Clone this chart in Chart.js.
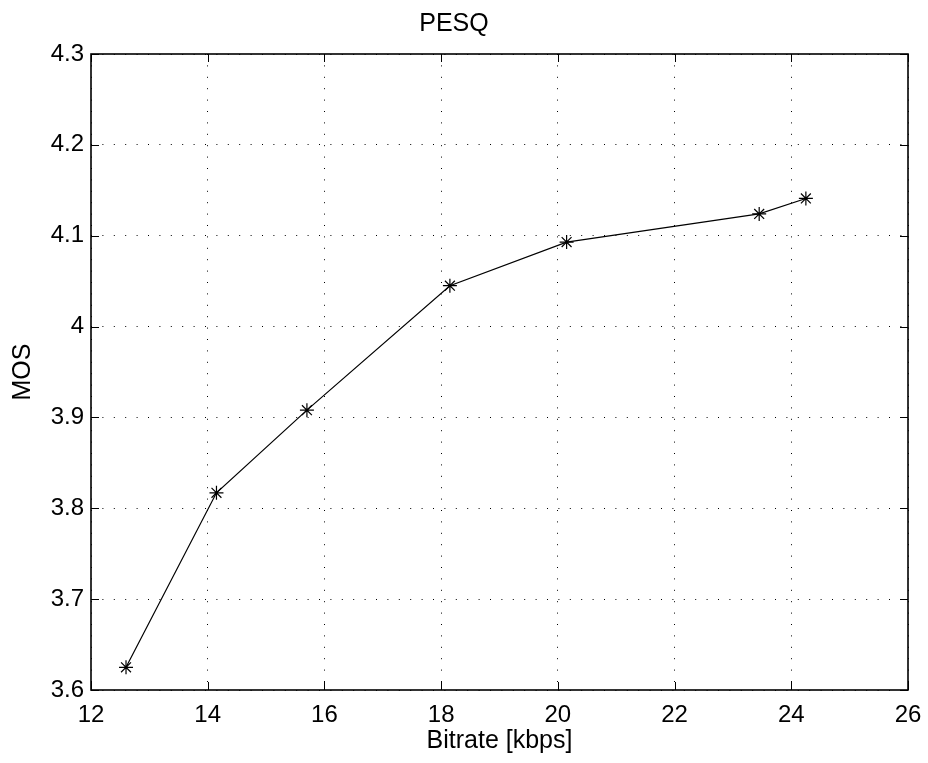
<!DOCTYPE html>
<html>
<head>
<meta charset="utf-8">
<script src="https://cdn.jsdelivr.net/npm/chart.js@4"></script>
<style>
  html, body { margin: 0; padding: 0; background: #ffffff; }
  #wrap { width: 928px; height: 763px; }
</style>
</head>
<body>
<div id="wrap"><canvas id="pesqChart" width="928" height="763"></canvas></div>
<script>
"use strict";

// Data
const bitrate = [12.6, 14.15, 15.7, 18.15, 20.15, 23.45, 24.25];
const mos     = [3.625, 3.817, 3.908, 4.045, 4.093, 4.124, 4.141];
const xTicks  = [12, 14, 16, 18, 20, 22, 24, 26];
const yTicks  = [3.6, 3.7, 3.8, 3.9, 4.0, 4.1, 4.2, 4.3];

const FONT = "'Liberation Sans', Arial, Helvetica, sans-serif";

// frame + inward tick marks, matlab style
const boxPlugin = {
    id: "matlabBox",
    afterDatasetsDraw(chart) {
        const { ctx, chartArea: a, scales } = chart;
        const tl = 8;
        ctx.save();
        ctx.strokeStyle = "#000";
        ctx.lineWidth = 1;
        ctx.beginPath();
        scales.x.ticks.forEach(t => {
            const px = Math.round(scales.x.getPixelForValue(t.value)) + 0.5;
            ctx.moveTo(px, a.bottom); ctx.lineTo(px, a.bottom - tl);
            ctx.moveTo(px, a.top);    ctx.lineTo(px, a.top + tl);
        });
        scales.y.ticks.forEach(t => {
            const py = Math.round(scales.y.getPixelForValue(t.value)) + 0.5;
            ctx.moveTo(a.left, py);  ctx.lineTo(a.left + tl, py);
            ctx.moveTo(a.right, py); ctx.lineTo(a.right - tl, py);
        });
        ctx.stroke();
        ctx.lineWidth = 1.6;
        ctx.strokeRect(a.left, a.top, a.right - a.left, a.bottom - a.top);
        ctx.restore();
    }
};

const chart = new Chart(document.getElementById("pesqChart"), {
    type: "scatter",
    data: {
        datasets: [{
            data: bitrate.map((x, i) => ({ x, y: mos[i] })),
            showLine: true,
            borderColor: "#000",
            borderWidth: 1.2,
            pointStyle: "star",
            pointRadius: 7,
            pointHoverRadius: 7,
            pointBorderColor: "#000",
            pointBorderWidth: 1.2,
            tension: 0
        }]
    },
    options: {
        responsive: false,
        animation: false,
        events: [],
        layout: { padding: { left: 0, right: 20, top: 0, bottom: 0 } },
        plugins: {
            legend: { display: false },
            tooltip: { enabled: false },
            title: {
                display: true,
                text: "PESQ",
                color: "#000",
                font: { family: FONT, size: 25, weight: "normal" },
                padding: { top: 9.5, bottom: 14.5 }
            }
        },
        scales: {
            x: {
                type: "linear",
                min: 12, max: 26,
                afterBuildTicks: s => { s.ticks = xTicks.map(v => ({ value: v })); },
                afterFit: s => { s.height = 73; s.paddingLeft = 0; s.paddingRight = 0; },
                grid: { color: "#000", lineWidth: 1, drawTicks: false },
                border: { display: false, dash: [1, 10.4] },
                ticks: { color: "#000", padding: 11, font: { family: FONT, size: 24 }, callback: v => String(v) },
                title: {
                    display: true, text: "Bitrate [kbps]", color: "#000",
                    font: { family: FONT, size: 25 }, padding: { top: 0, bottom: 7 }
                }
            },
            y: {
                type: "linear",
                min: 3.6, max: 4.3,
                afterBuildTicks: s => { s.ticks = yTicks.map(v => ({ value: v })); },
                afterFit: s => { s.width = 91; s.paddingTop = 0; s.paddingBottom = 0; },
                grid: { color: "#000", lineWidth: 1, drawTicks: false },
                border: { display: false, dash: [1, 10.4] },
                ticks: { color: "#000", padding: 7, font: { family: FONT, size: 24 }, callback: v => String(Number(v.toFixed(1))) },
                title: {
                    display: true, text: "MOS", color: "#000",
                    font: { family: FONT, size: 25 }, padding: { top: 8, bottom: 0 }
                }
            }
        }
    },
    plugins: [boxPlugin]
});
</script>
</body>
</html>
